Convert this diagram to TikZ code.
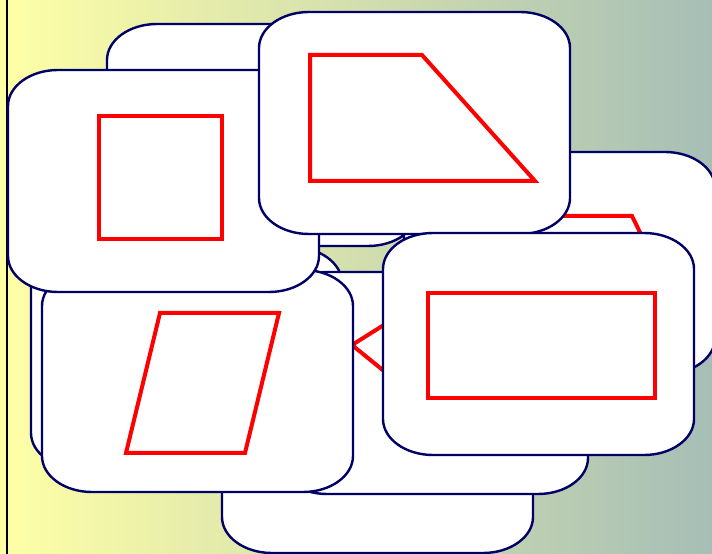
\documentclass[tikz,border=0pt]{standalone}
\definecolor{navy}{RGB}{0,0,102}
\definecolor{bgleft}{RGB}{255,255,166}
\definecolor{bgright}{RGB}{166,190,182}
\newcommand{\cardat}[2]{%
  \draw[card] (#1+50,#2) -- (#1+261,#2)
    arc[start angle=-90, end angle=0, x radius=50pt, y radius=36pt] -- (#1+311,#2+186)
    arc[start angle=0, end angle=90, x radius=50pt, y radius=36pt] -- (#1+50,#2+222)
    arc[start angle=90, end angle=180, x radius=50pt, y radius=36pt] -- (#1,#2+36)
    arc[start angle=180, end angle=270, x radius=50pt, y radius=36pt] -- cycle;}
\begin{document}
\begin{tikzpicture}[x=1pt, y=1pt,
  card/.style={draw=navy, line width=2.4pt, fill=white},
  figur/.style={draw=red, line width=4pt}]
  \useasboundingbox (0,0) rectangle (712,554);
  \clip (0,0) rectangle (712,554);
  \shade[left color=bgleft, right color=bgright] (0,0) rectangle (712,554);
  \draw[line width=2pt] (7,0) -- (7,554);
  % cards at the back
  \foreach \x/\y in {107/308, 31/85} {
    \cardat{\x}{\y}
  }
  \cardat{404}{180}
  \draw[figur] (488,338) -- (632,338) -- (655,291) -- (632,244) -- (488,244) -- (465,291) -- cycle;
  \cardat{222}{1}
  \cardat{277}{60}
  \draw[figur] (352,209) -- (395,236) -- (480,236) -- (520,209) -- (480,174) -- (395,174) -- cycle;
  % cards at the front
  \cardat{42}{62}
  \draw[figur] (160,241) -- (279,241) -- (245,101) -- (126,101) -- cycle;
  \cardat{8}{262}
  \draw[figur] (99,315) rectangle (222,438);
  \cardat{259}{320}
  \draw[figur] (310,499) -- (422,499) -- (535,373) -- (310,373) -- cycle;
  \cardat{383}{99}
  \draw[figur] (428,156) rectangle (655,261);
\end{tikzpicture}
\end{document}
